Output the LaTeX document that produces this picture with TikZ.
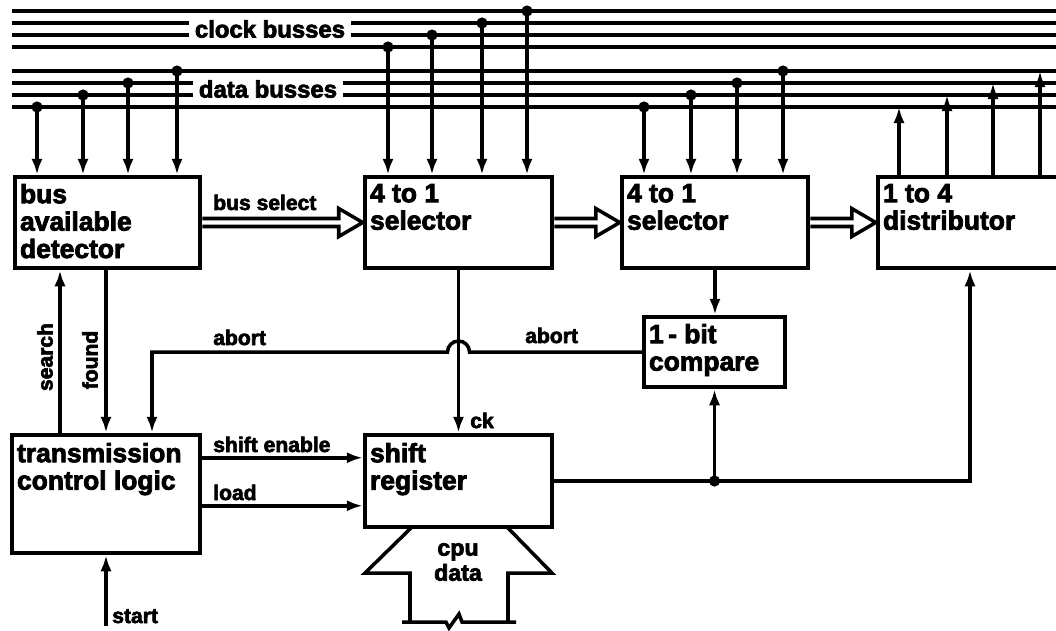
\documentclass[tikz,border=0pt]{standalone}
\usepackage{fontspec}
\setmainfont{Liberation Sans}[BoldFeatures={FakeBold=3}]
\usetikzlibrary{arrows.meta,calc,fit}

\tikzset{
  wire/.style={line width=2.5pt},
  blk/.style={draw, line width=3.2pt, inner sep=0pt},
  blktext/.style={anchor=north west, inner sep=0pt, align=left, font=\fontsize{18.8}{19.5}\selectfont\bfseries},
  lbl/.style={anchor=base west, inner sep=0pt, font=\fontsize{15}{16}\selectfont\bfseries},
  buslbl/.style={fill=white, inner xsep=1.5mm, inner ysep=0.5pt, font=\fontsize{17}{18}\selectfont\bfseries},
}

% hohler Buspfeil von Kasten #1 nach Kasten #2
\newcommand{\busarrow}[2]{%
  \draw[wire, line join=miter] ($(#1.east)+(0,-4)$) -- ($(#2.west)+(-24,-4)$) -- ($(#2.west)+(-24,-14)$)
    -- (#2.west) -- ($(#2.west)+(-24,14)$) -- ($(#2.west)+(-24,4)$) -- ($(#1.east)+(0,4)$);}

\begin{document}
\begin{tikzpicture}[x=0.25mm, y=-0.25mm, >={Latex[length=4mm,width=2.8mm]}]
  \useasboundingbox (0,0) rectangle (1056,630);
  \clip (0,0) rectangle (1056,630);

  % Busleitungen
  \draw[wire] (12,11) -- (1056,11);
  \draw[wire] (12,23) -- (1056,23);
  \draw[wire] (12,35) -- (1056,35);
  \draw[wire] (12,47) -- (1056,47);
  \draw[wire] (12,71) -- (1056,71);
  \draw[wire] (12,83) -- (1056,83);
  \draw[wire] (12,95) -- (1056,95);
  \draw[wire] (12,107) -- (1056,107);
  \node[buslbl] (clk) at (270,29) {clock busses};
  \node[buslbl] (dat) at (268,89) {data busses};

  % Kaesten
  \node[blk, fit={(15,177) (200,268)}] (bad) {};
  \node[blk, fit={(365,177) (552,268)}] (sel1) {};
  \node[blk, fit={(622,177) (808,268)}] (sel2) {};
  \node[blk, fit={(878,177) (1090,268)}] (dist) {};
  \node[blk, fit={(644,317) (785,387)}] (cmp) {};
  \node[blk, fit={(12,435) (200,553)}] (tcl) {};
  \node[blk, fit={(365,435) (552,527)}] (sr) {};

  % Beschriftungen der Kaesten
  \node[blktext] (badtxt) at ($(bad.north west)+(7,9)$) {bus\\available\\detector};
  \node[blktext] (sel1txt) at ($(sel1.north west)+(7,9)$) {4 to 1\\selector};
  \node[blktext] (sel2txt) at ($(sel2.north west)+(7,9)$) {4 to 1\\selector};
  \node[blktext] (disttxt) at ($(dist.north west)+(7,9)$) {1 to 4\\distributor};
  \node[blktext] (cmptxt) at ($(cmp.north west)+(7,9)$) {1\,- bit\\compare};
  \node[blktext] (tcltxt) at ($(tcl.north west)+(7,10)$) {transmission\\control logic};
  \node[blktext] (srtxt) at ($(sr.north west)+(7,10)$) {shift\\register};

  % Abgriffe Datenbusse -> bus available detector
  \coordinate (b1) at (37,107);
  \coordinate (b2) at (83,95);
  \coordinate (b3) at (128,83);
  \coordinate (b4) at (177,71);
  \draw[wire,->] (b1) -- (b1 |- bad.north);
  \draw[wire,->] (b2) -- (b2 |- bad.north);
  \draw[wire,->] (b3) -- (b3 |- bad.north);
  \draw[wire,->] (b4) -- (b4 |- bad.north);
  \fill (b1) circle (1.4mm);
  \fill (b2) circle (1.4mm);
  \fill (b3) circle (1.4mm);
  \fill (b4) circle (1.4mm);

  % Abgriffe Taktbusse -> 4 to 1 selector
  \coordinate (c1) at (388,47);
  \coordinate (c2) at (432,35);
  \coordinate (c3) at (482,23);
  \coordinate (c4) at (527,11);
  \draw[wire,->] (c1) -- (c1 |- sel1.north);
  \draw[wire,->] (c2) -- (c2 |- sel1.north);
  \draw[wire,->] (c3) -- (c3 |- sel1.north);
  \draw[wire,->] (c4) -- (c4 |- sel1.north);
  \fill (c1) circle (1.4mm);
  \fill (c2) circle (1.4mm);
  \fill (c3) circle (1.4mm);
  \fill (c4) circle (1.4mm);

  % Abgriffe Datenbusse -> 4 to 1 selector
  \coordinate (d1) at (644,107);
  \coordinate (d2) at (691,95);
  \coordinate (d3) at (737,83);
  \coordinate (d4) at (783,71);
  \draw[wire,->] (d1) -- (d1 |- sel2.north);
  \draw[wire,->] (d2) -- (d2 |- sel2.north);
  \draw[wire,->] (d3) -- (d3 |- sel2.north);
  \draw[wire,->] (d4) -- (d4 |- sel2.north);
  \fill (d1) circle (1.4mm);
  \fill (d2) circle (1.4mm);
  \fill (d3) circle (1.4mm);
  \fill (d4) circle (1.4mm);

  % Ausgaenge distributor -> Datenbusse
  \coordinate (o1) at (899,107);
  \coordinate (o2) at (947,95);
  \coordinate (o3) at (993,83);
  \coordinate (o4) at (1040,71);
  \draw[wire,->] (o1 |- dist.north) -- (o1);
  \draw[wire,->] (o2 |- dist.north) -- (o2);
  \draw[wire,->] (o3 |- dist.north) -- (o3);
  \draw[wire,->] (o4 |- dist.north) -- (o4);

  % Buspfeile
  \busarrow{bad}{sel1}
  \busarrow{sel1}{sel2}
  \busarrow{sel2}{dist}
  \node[lbl] (bsel) at (213,210) {bus select};

  % search / found / start
  \coordinate (xs) at (60,0);
  \coordinate (xf) at (106,0);
  \coordinate (st) at (106,626);
  \draw[wire,->] (xs |- tcl.north) -- (xs |- bad.south);
  \draw[wire,->] (xf |- bad.south) -- (xf |- tcl.north);
  \draw[wire,->] (st) -- (st |- tcl.south);
  \node[lbl, rotate=90, anchor=center] (search) at (45,357) {search};
  \node[lbl, rotate=90, anchor=center] (found) at (90,360) {found};
  \node[lbl] (start) at (112,623) {start};

  % abort mit Bruecke ueber ck
  \coordinate (xa) at (152,0);
  \coordinate (hop) at (sel1.south |- cmp.west);
  \draw[wire,->] (cmp.west) -- ($(hop)+(11,0)$) arc[start angle=0, end angle=180, radius=2.75mm]
    -- (xa |- cmp.west) -- (xa |- tcl.north);
  \node[lbl] (abort1) at (213,345) {abort};
  \node[lbl] (abort2) at (525,343) {abort};

  % ck und Vergleich
  \draw[wire,->] (sel1.south) -- (sr.north);
  \node[lbl] (ck) at (470,428) {ck};
  \draw[wire,->] (sel2.south) -- (sel2.south |- cmp.north);

  % shift enable / load
  \coordinate (se) at ($(tcl.north east)+(0,25)$);
  \coordinate (ld) at ($(tcl.north east)+(0,73)$);
  \draw[wire,->] (se) -- (se -| sr.west);
  \draw[wire,->] (ld) -- (ld -| sr.west);
  \node[lbl] (sen) at (213,452) {shift enable};
  \node[lbl] (load) at (213,500) {load};

  % Ausgang Schieberegister
  \coordinate (jn) at (cmp.south |- sr.east);
  \coordinate (xd) at (970,0);
  \draw[wire,->] (jn) -- (cmp.south);
  \draw[wire,->] (sr.east) -- (xd |- sr.east) -- (xd |- dist.south);
  \fill (jn) circle (1.4mm);

  % cpu data Pfeil
  \draw[wire, line join=miter] (412,527) -- (365,573) -- (410,573) -- (410,622);
  \draw[wire, line join=miter] (507,527) -- (552,573) -- (508,573) -- (508,622);
  \draw[wire] (402,622) -- (446,622) -- (449,628) -- (459,614) -- (462,622) -- (516,622);
  \node[font=\fontsize{16.5}{17.8}\selectfont\bfseries, align=center] (cpu) at (458,562) {cpu\\data};
\end{tikzpicture}
\end{document}
